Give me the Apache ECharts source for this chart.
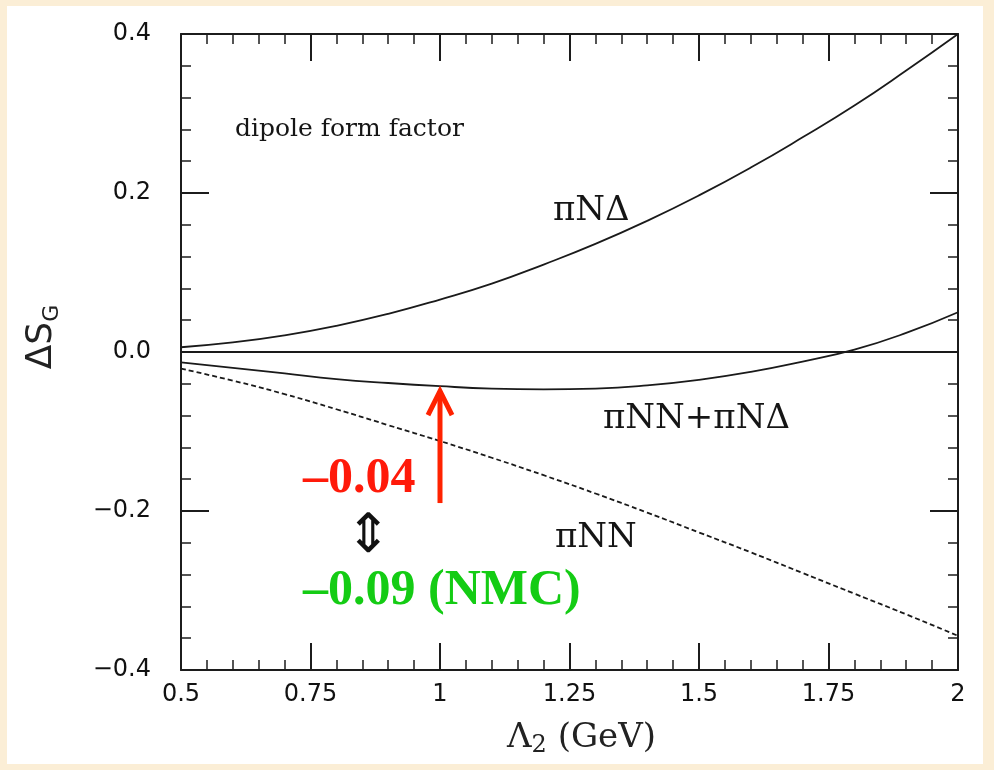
<!DOCTYPE html>
<html>
<head>
<meta charset="utf-8">
<title>ΔS_G vs Λ2</title>
<script src="https://cdn.jsdelivr.net/npm/echarts@6/dist/echarts.min.js"></script>
<style>
  html, body { margin: 0; padding: 0; background: #fbeed6; }
  #chart { width: 994px; height: 770px; }
</style>
</head>
<body>
<div id="chart"></div>
<script>
// Cutoff mass Λ2 (GeV) at which each contribution is evaluated
const lambda2 = [0.5, 0.6, 0.7, 0.8, 0.9, 1.0, 1.1, 1.2, 1.3, 1.4, 1.5, 1.6, 1.7, 1.8, 1.9, 2.0];
// πNΔ loop contribution
const piNDelta = [0.006, 0.012, 0.021, 0.033, 0.048, 0.066, 0.086, 0.110, 0.136, 0.165, 0.197, 0.232, 0.270, 0.310, 0.354, 0.400];
// πNN + πNΔ combined
const piNNplusPiNDelta = [-0.013, -0.020, -0.027, -0.034, -0.039, -0.043, -0.046, -0.047, -0.046, -0.042, -0.035, -0.025, -0.012, 0.003, 0.024, 0.050];
// πNN loop contribution (dashed)
const piNN = [-0.021, -0.036, -0.053, -0.072, -0.092, -0.112, -0.133, -0.155, -0.178, -0.202, -0.227, -0.252, -0.278, -0.304, -0.330, -0.357];
// Reference line at ΔS_G = 0
const zeroX = [0.5, 2.0];
const zeroY = [0, 0];

// Tick labels
const xTickLabels = ['0.5', '0.75', '1', '1.25', '1.5', '1.75', '2'];
const yTickLabels = ['\u22120.4', '\u22120.2', '0.0', '0.2', '0.4'];

// Estimate arrow: points at the combined curve at Λ2 = 1 GeV
const arrowX = 1.0;
const arrowTailY = -0.19;

const pairs = (xs, ys) => xs.map((x, i) => [x, ys[i]]);
const arrowTipY = piNNplusPiNDelta[lambda2.indexOf(arrowX)];

const ink = '#1c1c1c';
const tickFont = { fontFamily: 'DejaVu Sans', fontSize: 24, color: '#111' };

function xAxisDef(position, showLabels) {
  return {
    type: 'value', position: position, min: 0.5, max: 2, interval: 0.25,
    axisLine: { show: true, onZero: false, lineStyle: { color: ink, width: 2 } },
    axisTick: { show: true, inside: true, length: 27, lineStyle: { color: ink, width: 2 } },
    minorTick: { show: true, splitNumber: 5, length: 10, lineStyle: { color: ink, width: 1.5 } },
    splitLine: { show: false },
    minorSplitLine: { show: false },
    axisLabel: showLabels ? Object.assign({
      margin: 13,
      formatter: v => xTickLabels[Math.round((v - 0.5) / 0.25)]
    }, tickFont) : { show: false }
  };
}

function yAxisDef(position, showLabels) {
  return {
    type: 'value', position: position, min: -0.4, max: 0.4, interval: 0.2,
    axisLine: { show: true, onZero: false, lineStyle: { color: ink, width: 2 } },
    axisTick: { show: true, inside: true, length: 28, lineStyle: { color: ink, width: 2 } },
    minorTick: { show: true, splitNumber: 5, length: 10, lineStyle: { color: ink, width: 1.5 } },
    splitLine: { show: false },
    minorSplitLine: { show: false },
    axisLabel: showLabels ? Object.assign({
      margin: 30,
      formatter: v => yTickLabels[Math.round((v + 0.4) / 0.2)]
    }, tickFont) : { show: false }
  };
}

const xBottom = xAxisDef('bottom', true);
xBottom.name = '{a|\u039B}{s|2}{a| (GeV)}';
xBottom.nameLocation = 'middle';
xBottom.nameGap = 48;
xBottom.nameTextStyle = {
  padding: [0, 0, 0, 24],
  rich: {
    a: { fontFamily: 'DejaVu Serif', fontSize: 34, color: '#222', lineHeight: 40, verticalAlign: 'middle' },
    s: { fontFamily: 'DejaVu Serif', fontSize: 24, color: '#222', lineHeight: 18, verticalAlign: 'bottom' }
  }
};

const yLeft = yAxisDef('left', true);
yLeft.name = '{a|\u0394S}{s|G}';
yLeft.nameLocation = 'middle';
yLeft.nameGap = 118;
yLeft.nameTextStyle = {
  padding: [0, 0, 0, 30],
  rich: {
    a: { fontFamily: 'DejaVu Sans', fontSize: 36, color: '#222', lineHeight: 42, verticalAlign: 'middle' },
    s: { fontFamily: 'DejaVu Sans', fontSize: 22, color: '#222', lineHeight: 16, verticalAlign: 'bottom' }
  }
};

const curve = (name, xs, ys, dashed) => ({
  name: name, type: 'line', xAxisIndex: 0, yAxisIndex: 0,
  data: pairs(xs, ys), smooth: true, showSymbol: false, symbol: 'none',
  lineStyle: { color: '#1a1a1a', width: 1.8, type: dashed ? [5, 3] : 'solid' },
  z: 3, silent: true
});

const serifText = (text, x, y, size) => ({
  type: 'text', x: x, y: y, silent: true,
  style: { text: text, fontFamily: 'DejaVu Serif', fontSize: size, fill: '#151515', verticalAlign: 'middle', align: 'left' }
});

const chart = echarts.init(document.getElementById('chart'));
chart.setOption({
  animation: false,
  backgroundColor: '#fbeed6',
  grid: { left: 181, right: 36, top: 34, bottom: 100, containLabel: false },
  xAxis: [xBottom, xAxisDef('top', false)],
  yAxis: [yLeft, yAxisDef('right', false)],
  graphic: [
    { type: 'rect', shape: { x: 7, y: 6, width: 976, height: 758 }, style: { fill: '#ffffff' }, z: -10, silent: true },
    serifText('dipole form factor', 235, 129, 25),
    serifText('\u03C0N\u0394', 553, 211, 34),
    serifText('\u03C0NN+\u03C0N\u0394', 603, 419, 34),
    serifText('\u03C0NN', 555, 538, 34),
    {
      type: 'text', x: 303, y: 479, silent: true,
      style: { text: '\u20130.04', fontFamily: 'Liberation Serif', fontWeight: 'bold', fontSize: 50, fill: '#ff1a0a', verticalAlign: 'middle' }
    },
    {
      type: 'text', x: 303, y: 591, silent: true,
      style: { text: '\u20130.09 (NMC)', fontFamily: 'Liberation Serif', fontWeight: 'bold', fontSize: 50, fill: '#14cc14', verticalAlign: 'middle' }
    },
    {
      type: 'text', x: 368, y: 538, silent: true,
      style: { text: '\u21D5', fontFamily: 'DejaVu Sans', fontSize: 54, fill: '#111', align: 'center', verticalAlign: 'middle' }
    }
  ],
  series: [
    curve('zero', zeroX, zeroY, false),
    curve('\u03C0N\u0394', lambda2, piNDelta, false),
    curve('\u03C0NN+\u03C0N\u0394', lambda2, piNNplusPiNDelta, false),
    curve('\u03C0NN', lambda2, piNN, true),
    {
      name: 'estimate', type: 'custom', xAxisIndex: 0, yAxisIndex: 0,
      data: [[arrowX, arrowTipY, arrowTailY]],
      encode: { x: 0, y: [1, 2] },
      clip: false, silent: true, z: 5,
      renderItem: function (params, api) {
        const tip = api.coord([api.value(0), api.value(1)]);
        const tail = api.coord([api.value(0), api.value(2)]);
        const tx = tip[0], ty = tip[1] + 3;
        return {
          type: 'group',
          children: [
            { type: 'line', shape: { x1: tail[0], y1: tail[1], x2: tx, y2: ty + 2 },
              style: { stroke: '#ff2200', lineWidth: 5 } },
            { type: 'polyline', shape: { points: [[tx - 12, ty + 26], [tx, ty + 2], [tx + 12, ty + 26]] },
              style: { stroke: '#ff2200', lineWidth: 5, fill: null, lineJoin: 'miter' } }
          ]
        };
      }
    }
  ]
});
</script>
</body>
</html>
